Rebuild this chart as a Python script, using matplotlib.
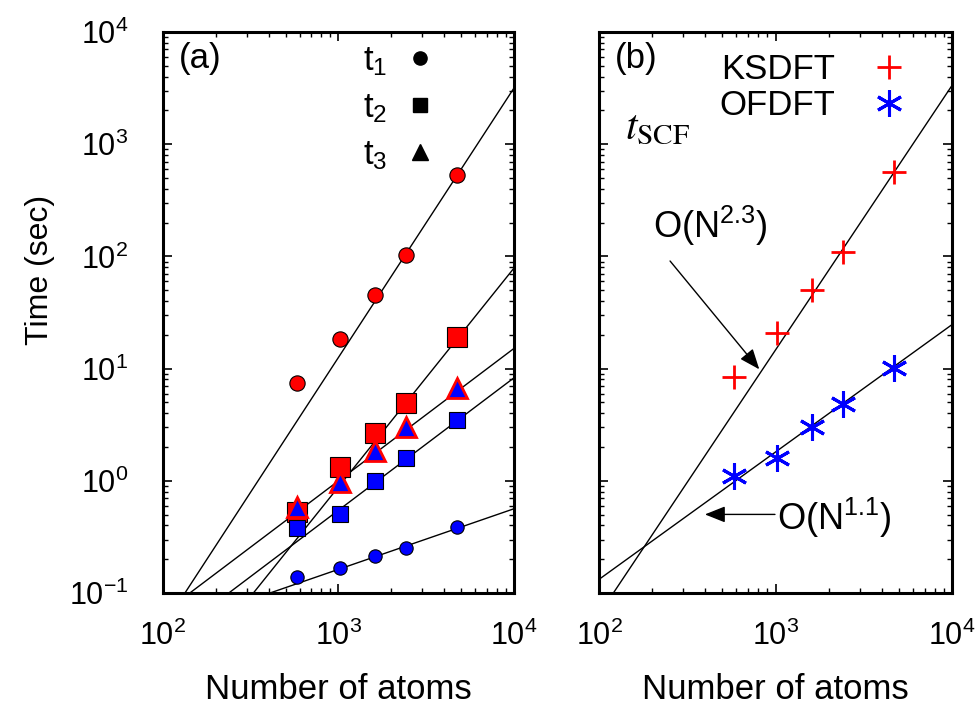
"""Timing of KSDFT vs OFDFT: (a) t1/t2/t3 components, (b) t_SCF scaling."""

import matplotlib.pyplot as plt
import numpy as np
from matplotlib.lines import Line2D

plt.rcParams["font.family"] = ["Liberation Sans", "DejaVu Sans"]

RED = "#FF0000"
BLUE = "#0000FF"

# number of atoms in each system
N_ATOMS = [580, 1025, 1610, 2410, 4720]

# panel (a): timing components (sec)
KS_T1 = [7.4, 18.5, 45.6, 103, 532]
KS_T2 = [0.53, 1.34, 2.65, 4.97, 19.0]
KS_T3 = [0.59, 0.98, 1.85, 3.03, 6.67]
OF_T1 = [0.14, 0.166, 0.214, 0.25, 0.39]
OF_T2 = [0.378, 0.51, 1.0, 1.61, 3.48]

# fitted power laws in (a): exponent and time at N = 1000
FIT_A_EXP = [2.40, 1.95, 1.18, 0.54, 1.18]
FIT_A_T1000 = [12.6, 0.883, 1.0, 0.1626, 0.547]

# panel (b): t_SCF (sec)
KS_SCF = [8.5, 20.9, 50, 110, 562]
OF_SCF = [1.10, 1.61, 3.0, 4.84, 10.1]
FIT_B_EXP = [2.357, 1.135]
FIT_B_T1000 = [14.66, 1.807]

XLIM = (1e2, 1e4)
YLIM = (1e-1, 1e4)


def power_law(x, expo, t1000):
    return t1000 * (np.asarray(x) / 1000.0) ** expo


def style_axes(ax):
    ax.set_xscale("log")
    ax.set_yscale("log")
    ax.set_xlim(*XLIM)
    ax.set_ylim(*YLIM)
    for spine in ax.spines.values():
        spine.set_linewidth(2.2)
    ax.tick_params(which="both", direction="in", top=True, right=True,
                   labelsize=22)
    ax.tick_params(axis="x", pad=20)
    ax.tick_params(axis="y", pad=25)
    ax.tick_params(which="major", length=6.5, width=1.2)
    ax.tick_params(which="minor", length=3.5, width=1.0)
    ax.set_xlabel("Number of atoms", fontsize=25)
    ax.xaxis.set_label_coords(0.5, -0.142)


fig = plt.figure(figsize=(9.79, 7.06), dpi=100)
ax_a = fig.add_axes([0.1665, 0.160, 0.3585, 0.7947])
ax_b = fig.add_axes([0.6119, 0.160, 0.3605, 0.7947])

# ---- panel (a)
style_axes(ax_a)
x_fit = np.array(XLIM)
for expo, t1000 in zip(FIT_A_EXP, FIT_A_T1000):
    ax_a.plot(x_fit, power_law(x_fit, expo, t1000), color="black", lw=1.0, zorder=1)

ax_a.plot(N_ATOMS, KS_T1, "o", ms=11, mfc=RED, mec="black", mew=0.8, zorder=3)
ax_a.plot(N_ATOMS, OF_T1, "o", ms=9.6, mfc=BLUE, mec="black", mew=0.8, zorder=3)
ax_a.plot(N_ATOMS, KS_T2, "s", ms=14, mfc=RED, mec="black", mew=0.8, zorder=3)
ax_a.plot(N_ATOMS, OF_T2, "s", ms=11.5, mfc=BLUE, mec="black", mew=0.8, zorder=3)
ax_a.plot(N_ATOMS, KS_T3, "^", ms=15, mfc=BLUE, mec=RED, mew=2.0, zorder=4)

ax_a.set_ylabel("Time (sec)", fontsize=23)
ax_a.yaxis.set_label_coords(-0.308, 0.576)
ax_a.text(0.045, 0.952, "(a)", transform=ax_a.transAxes, fontsize=25,
          ha="left", va="center")

handles_a = [
    Line2D([], [], ls="none", marker="o", ms=9.5, color="black"),
    Line2D([], [], ls="none", marker="s", ms=9.5, color="black"),
    Line2D([], [], ls="none", marker="^", ms=12, color="black"),
]
ax_a.legend(handles_a, [r"$\mathregular{t_1}$", r"$\mathregular{t_2}$",
                        r"$\mathregular{t_3}$"],
            loc="upper left", bbox_to_anchor=(0.57, 0.978), frameon=False,
            markerfirst=False, fontsize=25, handlelength=1.0,
            handletextpad=0.45, labelspacing=0.38, borderpad=0, borderaxespad=0)

# ---- panel (b)
style_axes(ax_b)
ax_b.tick_params(axis="y", labelleft=False)
for expo, t1000 in zip(FIT_B_EXP, FIT_B_T1000):
    ax_b.plot(x_fit, power_law(x_fit, expo, t1000), color="black", lw=1.0, zorder=1)

ax_b.plot(N_ATOMS, KS_SCF, "+", ms=17, color=RED, mew=2.0, zorder=3,
          label="KSDFT")
ax_b.plot(N_ATOMS, OF_SCF, ls="none", marker=(6, 2, 0), ms=19, color=BLUE,
          mew=2.2, zorder=3, label="OFDFT")

ax_b.text(0.045, 0.952, "(b)", transform=ax_b.transAxes, fontsize=25,
          ha="left", va="center")
ax_b.text(0.074, 0.83, r"$t_{\mathrm{SCF}}$", transform=ax_b.transAxes,
          fontsize=30, ha="left", va="center", math_fontfamily="stix")
ax_b.legend(loc="upper left", bbox_to_anchor=(0.34, 0.963), frameon=False,
            markerfirst=False, fontsize=25, handlelength=1.0,
            handletextpad=1.05, labelspacing=0.1, borderpad=0, borderaxespad=0)

arrow = dict(arrowstyle="-|>,head_length=0.5,head_width=0.2", color="black",
             lw=1.0, shrinkA=0, shrinkB=0, mutation_scale=25)
ax_b.text(202, 186.6, r"$\mathregular{O(N^{2.3})}$", fontsize=26,
          ha="left", va="center")
ax_b.annotate("", xy=(809, 9.86), xytext=(252.6, 91.0), arrowprops=arrow)
ax_b.text(1016, 0.466, r"$\mathregular{O(N^{1.1})}$", fontsize=26,
          ha="left", va="center")
ax_b.annotate("", xy=(398, 0.502), xytext=(993, 0.502), arrowprops=arrow)

fig.savefig("out.png", dpi=100)
